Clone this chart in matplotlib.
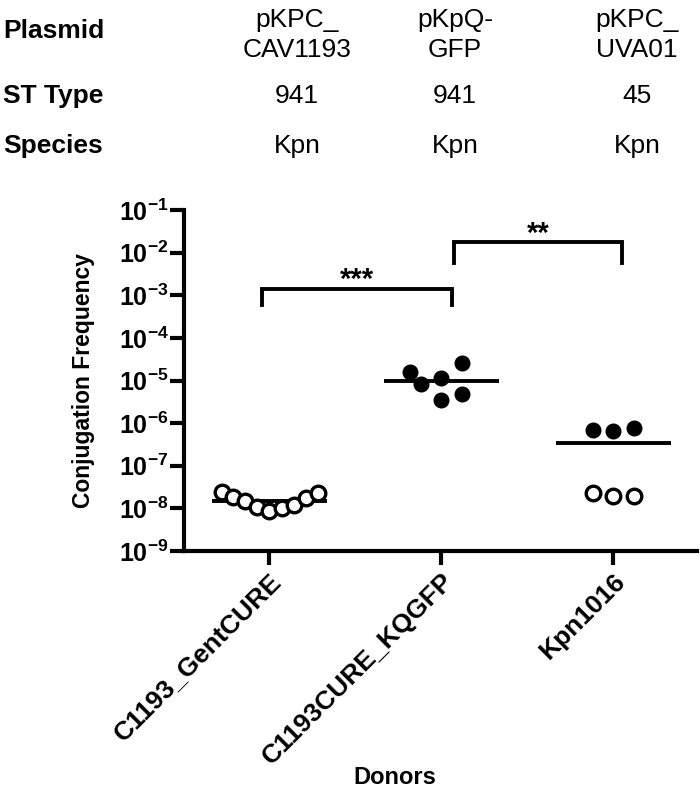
import numpy as np
import matplotlib
matplotlib.use("Agg")
import matplotlib.pyplot as plt
from matplotlib import font_manager

plt.rcParams['font.family'] = ['Liberation Sans', 'DejaVu Sans']
plt.rcParams['mathtext.fontset'] = 'custom'
plt.rcParams['mathtext.rm'] = 'Liberation Sans:bold'
plt.rcParams['mathtext.bf'] = 'Liberation Sans:bold'
plt.rcParams['mathtext.default'] = 'rm'

# ---- data ----
donors = ["C1193_GentCURE", "C1193CURE_KQGFP", "Kpn1016"]
plasmids = ["pKPC_\nCAV1193", "pKpQ-\nGFP", "pKPC_\nUVA01"]
st_types = ["941", "941", "45"]
species = ["Kpn", "Kpn", "Kpn"]

g1_vals = [2.45e-8, 1.81e-8, 1.51e-8, 1.09e-8, 0.88e-8, 1.02e-8, 1.19e-8, 1.71e-8, 2.28e-8]
g1_offs = [-0.277, -0.209, -0.141, -0.070, 0.0, 0.072, 0.143, 0.213, 0.284]
g2_vals = [1.6e-5, 8.4e-6, 1.16e-5, 2.6e-5, 3.5e-6, 4.7e-6]
g2_offs = [-0.18, -0.12, 0.0, 0.12, 0.0, 0.12]
g3_filled_vals = [7.0e-7, 6.5e-7, 7.8e-7]
g3_filled_offs = [-0.12, 0.0, 0.12]
g3_open_vals = [2.3e-8, 1.9e-8, 1.9e-8]
g3_open_offs = [-0.12, 0.0, 0.12]
means = [1.46e-8, 1.0e-5, 3.4e-7]

ytick_exps = [-9, -8, -7, -6, -5, -4, -3, -2, -1]

# significance brackets: (x_left, x_right, y_top, y_bottom, label, label_y)
brackets = [(-0.044, 1.064, 1.4e-3, 5.9e-4, "***", 1.05e-3),
            (1.074, 2.049, 1.8e-2, 5.6e-3, "**", 1.3e-2)]

names = {f.name for f in font_manager.fontManager.ttflist}
if 'Liberation Sans Narrow' in names:
    val_font = dict(family=['Liberation Sans Narrow', 'Liberation Sans'], fontsize=23)
else:
    val_font = dict(family=['Liberation Sans'], fontsize=19)

W, H = 700, 793
fig = plt.figure(figsize=(W / 100, H / 100), dpi=100)
ax = fig.add_axes([184 / W, 1 - 551 / H, (697 - 184) / W, (551 - 210) / H])

ax.set_yscale('log')
ax.set_ylim(1e-9, 1e-1)
ax.set_xlim(-0.496, 2.487)

ms = 10.5
ax.plot(np.array(g1_offs) + 0, g1_vals, 'o', ms=ms, mfc='white', mec='black', mew=2.4, zorder=3)
ax.plot(np.array(g2_offs) + 1, g2_vals, 'o', ms=ms, mfc='black', mec='black', mew=1, zorder=3)
ax.plot(np.array(g3_filled_offs) + 2, g3_filled_vals, 'o', ms=ms, mfc='black', mec='black', mew=1, zorder=3)
ax.plot(np.array(g3_open_offs) + 2, g3_open_vals, 'o', ms=ms, mfc='white', mec='black', mew=2.4, zorder=3)

for i, m in enumerate(means):
    ax.plot([i - 0.334, i + 0.334], [m, m], color='black', lw=2.8, zorder=2, solid_capstyle='butt')

for xl, xr, yt, yb, lab, ly in brackets:
    ax.plot([xl, xl, xr, xr], [yb, yt, yt, yb], color='black', lw=2.8, solid_joinstyle='miter')
    ax.text((xl + xr) / 2, ly, lab, ha='center', va='bottom', fontsize=21, fontweight='bold')

for s in ['top', 'right']:
    ax.spines[s].set_visible(False)
for s in ['left', 'bottom']:
    ax.spines[s].set_linewidth(3.0)

ax.set_yticks([10.0 ** e for e in ytick_exps])
ax.set_yticklabels([r'$10^{%d}$' % e for e in ytick_exps])
ax.yaxis.set_minor_locator(matplotlib.ticker.NullLocator())
ax.set_xticks([0, 1, 2])
ax.set_xticklabels(donors, rotation=45, ha='right', rotation_mode='anchor',
                   fontsize=19, fontweight='bold')
ax.tick_params(axis='both', which='major', length=10, width=3.0, direction='out', pad=3)
ax.tick_params(axis='y', labelsize=18, pad=1)

ax.set_ylabel("Conjugation Frequency", fontsize=16.5, fontweight='bold')
ax.yaxis.set_label_coords(-0.174, 0.5)
fig.text(395 / W, 1 - 777 / H, "Donors", ha='center', va='center', fontsize=17, fontweight='bold')

# header table
label_y = [31, 96, 146]
row_labels = ["Plasmid", "ST Type", "Species"]
for lab, y in zip(row_labels, label_y):
    fig.text(3 / W, 1 - y / H, lab, ha='left', va='center', fontsize=19, fontweight='bold')

col_x = [297, 455, 637]
for v, x in zip(plasmids, col_x):
    top, bottom = v.split("\n")
    fig.text(x / W, 1 - 20 / H, top, ha='center', va='center', **val_font)
    fig.text(x / W, 1 - 50 / H, bottom, ha='center', va='center', **val_font)
for vals, y in zip([st_types, species], [96, 146]):
    for v, x in zip(vals, col_x):
        fig.text(x / W, 1 - y / H, v, ha='center', va='center', **val_font)

fig.savefig("out.png", dpi=100)
